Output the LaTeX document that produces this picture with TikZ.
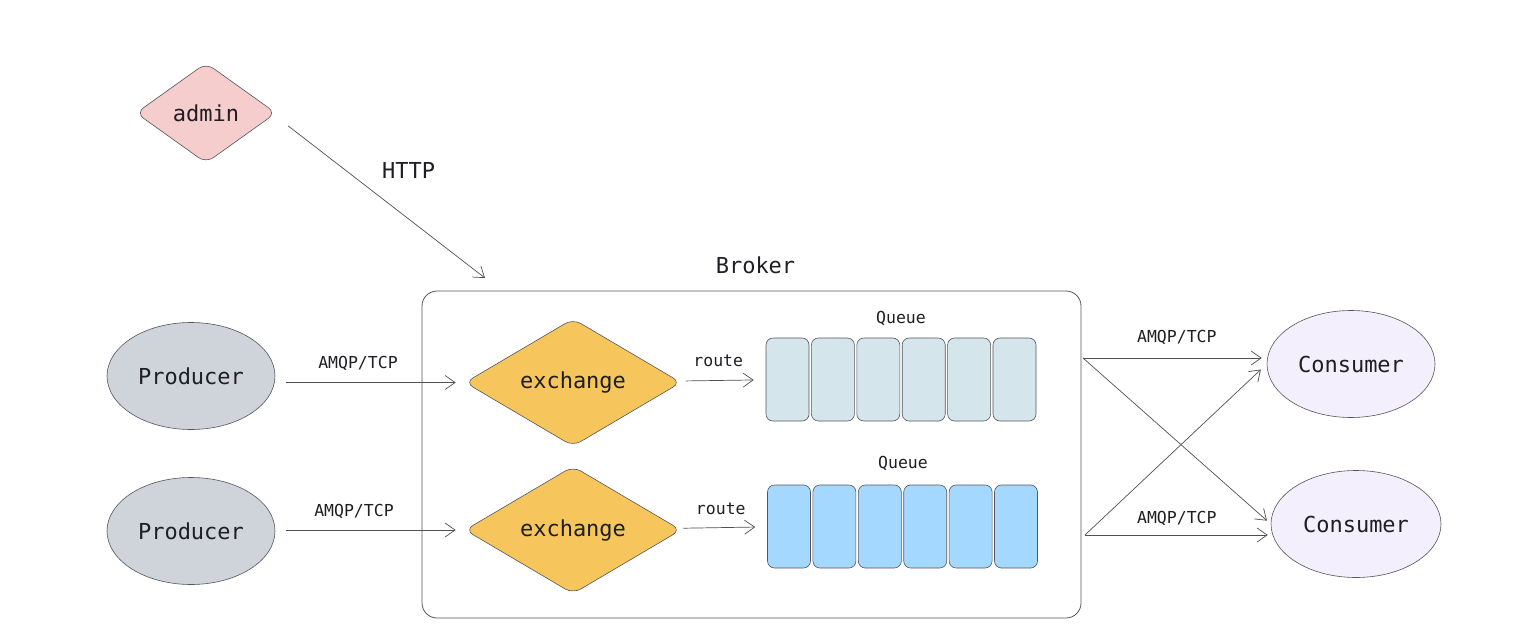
\documentclass[tikz,border=0pt]{standalone}
\usepackage{fontspec}
\setmonofont{DejaVu Sans Mono}
\usetikzlibrary{shapes.geometric,arrows.meta,positioning}
\definecolor{ink}{RGB}{30,30,36}
\definecolor{edgegray}{RGB}{85,85,90}
\definecolor{linkgray}{RGB}{80,80,84}
\definecolor{adminpink}{RGB}{244,205,204}
\definecolor{prodgray}{RGB}{206,212,218}
\definecolor{exyellow}{RGB}{246,198,92}
\definecolor{queuepale}{RGB}{213,229,236}
\definecolor{queueblue}{RGB}{165,216,255}
\definecolor{conslilac}{RGB}{244,239,252}
\tikzset{%
  mq/.style = {
    x=1pt, y=-1pt,
    every node/.style = {font=\ttfamily\fontsize{22}{26}\selectfont,
      text=ink, inner sep=2pt},
    small/.style = {font=\ttfamily\fontsize{16.5}{20}\selectfont},
    link/.style = {draw=linkgray, line width=0.7pt,
      -{Straight Barb[length=10pt,width=14pt,line width=0.7pt]}},
    rhomb/.style = {shape=diamond, draw=edgegray, line width=0.6pt,
      rounded corners=9pt, inner sep=0pt},
    oval/.style = {shape=ellipse, draw=edgegray, line width=0.6pt,
      inner sep=0pt, minimum width=168pt, minimum height=107pt},
    cell/.style = {shape=rectangle, draw=edgegray, line width=0.6pt,
      rounded corners=7pt, minimum width=43pt, minimum height=83pt}
  }
}

\begin{document}
\begin{tikzpicture}[mq]
  \useasboundingbox (0,0) rectangle (1524,640);

  \node[rhomb, fill=adminpink, minimum width=140pt, minimum height=100pt] (admin) at (206,113) {admin};
  \coordinate (httpend) at (485,278);
  \draw[link] ([shift={(12,13)}]admin.east) -- (httpend)
    node[midway, xshift=22pt, yshift=32pt] (http) {HTTP};

  % broker
  \node[draw=edgegray, line width=0.8pt, rounded corners=15pt,
    minimum width=659pt, minimum height=327pt] (broker) at (751.5,454.5) {};
  \node[above=15pt of broker, xshift=4pt] (brokerlab) {Broker};

  \node[oval, fill=prodgray] (p1) at (191,376) {Producer};
  \node[oval, fill=prodgray] (p2) at (191,531) {Producer};

  \node[rhomb, fill=exyellow, minimum width=216pt, minimum height=118pt] (ex1) at (573,382.5) {exchange};
  \node[rhomb, fill=exyellow, minimum width=216pt, minimum height=118pt] (ex2) at (573,530) {exchange};

  \foreach \i in {0,...,5} {
    \node[cell, fill=queuepale] (qa\i) at (787.5+45.4*\i,379.5) {};
    \node[cell, fill=queueblue] (qb\i) at (789+45.4*\i,526.5) {};
  }
  \node[small] (qlab1) at (901,318) {Queue};
  \node[small] (qlab2) at (903,463) {Queue};

  \draw[link, shorten <=11pt, shorten >=9pt] (p1.east |- ex1) -- (ex1)
    node[small, midway, above=9pt, xshift=-12pt] (amqp1) {AMQP/TCP};
  \draw[link, shorten <=11pt, shorten >=9pt] (p2.east |- ex2) -- (ex2)
    node[small, midway, above=9pt, xshift=-16pt] (amqp2) {AMQP/TCP};

  \draw[link, shorten <=7pt, shorten >=12pt] (ex1) -- (qa0)
    node[small, midway, above=11pt, xshift=-4pt] (route1) {route};
  \draw[link, shorten <=5pt, shorten >=12pt] (ex2) -- (qb0)
    node[small, midway, above=10pt, xshift=-2pt] (route2) {route};

  \node[oval, fill=conslilac] (c1) at (1351,364) {Consumer};
  \node[oval, fill=conslilac, minimum width=170pt] (c2) at (1356,524) {Consumer};

  \coordinate (out1) at (1083,358);
  \coordinate (out2) at (1085,535);
  \draw[link, shorten >=5pt] (out1) -- (out1 -| c1.west)
    node[small, midway, above=11pt, xshift=2pt] (amqp3) {AMQP/TCP};
  \draw[link, shorten >=5pt] (out1) -- (c2.west);
  \draw[link, shorten >=8pt] (out2) -- (c1.west);
  \draw[link, shorten >=3pt] (out2) -- (out2 -| c2.west)
    node[small, midway, above=7pt, xshift=-1pt] (amqp4) {AMQP/TCP};
\end{tikzpicture}
\end{document}
